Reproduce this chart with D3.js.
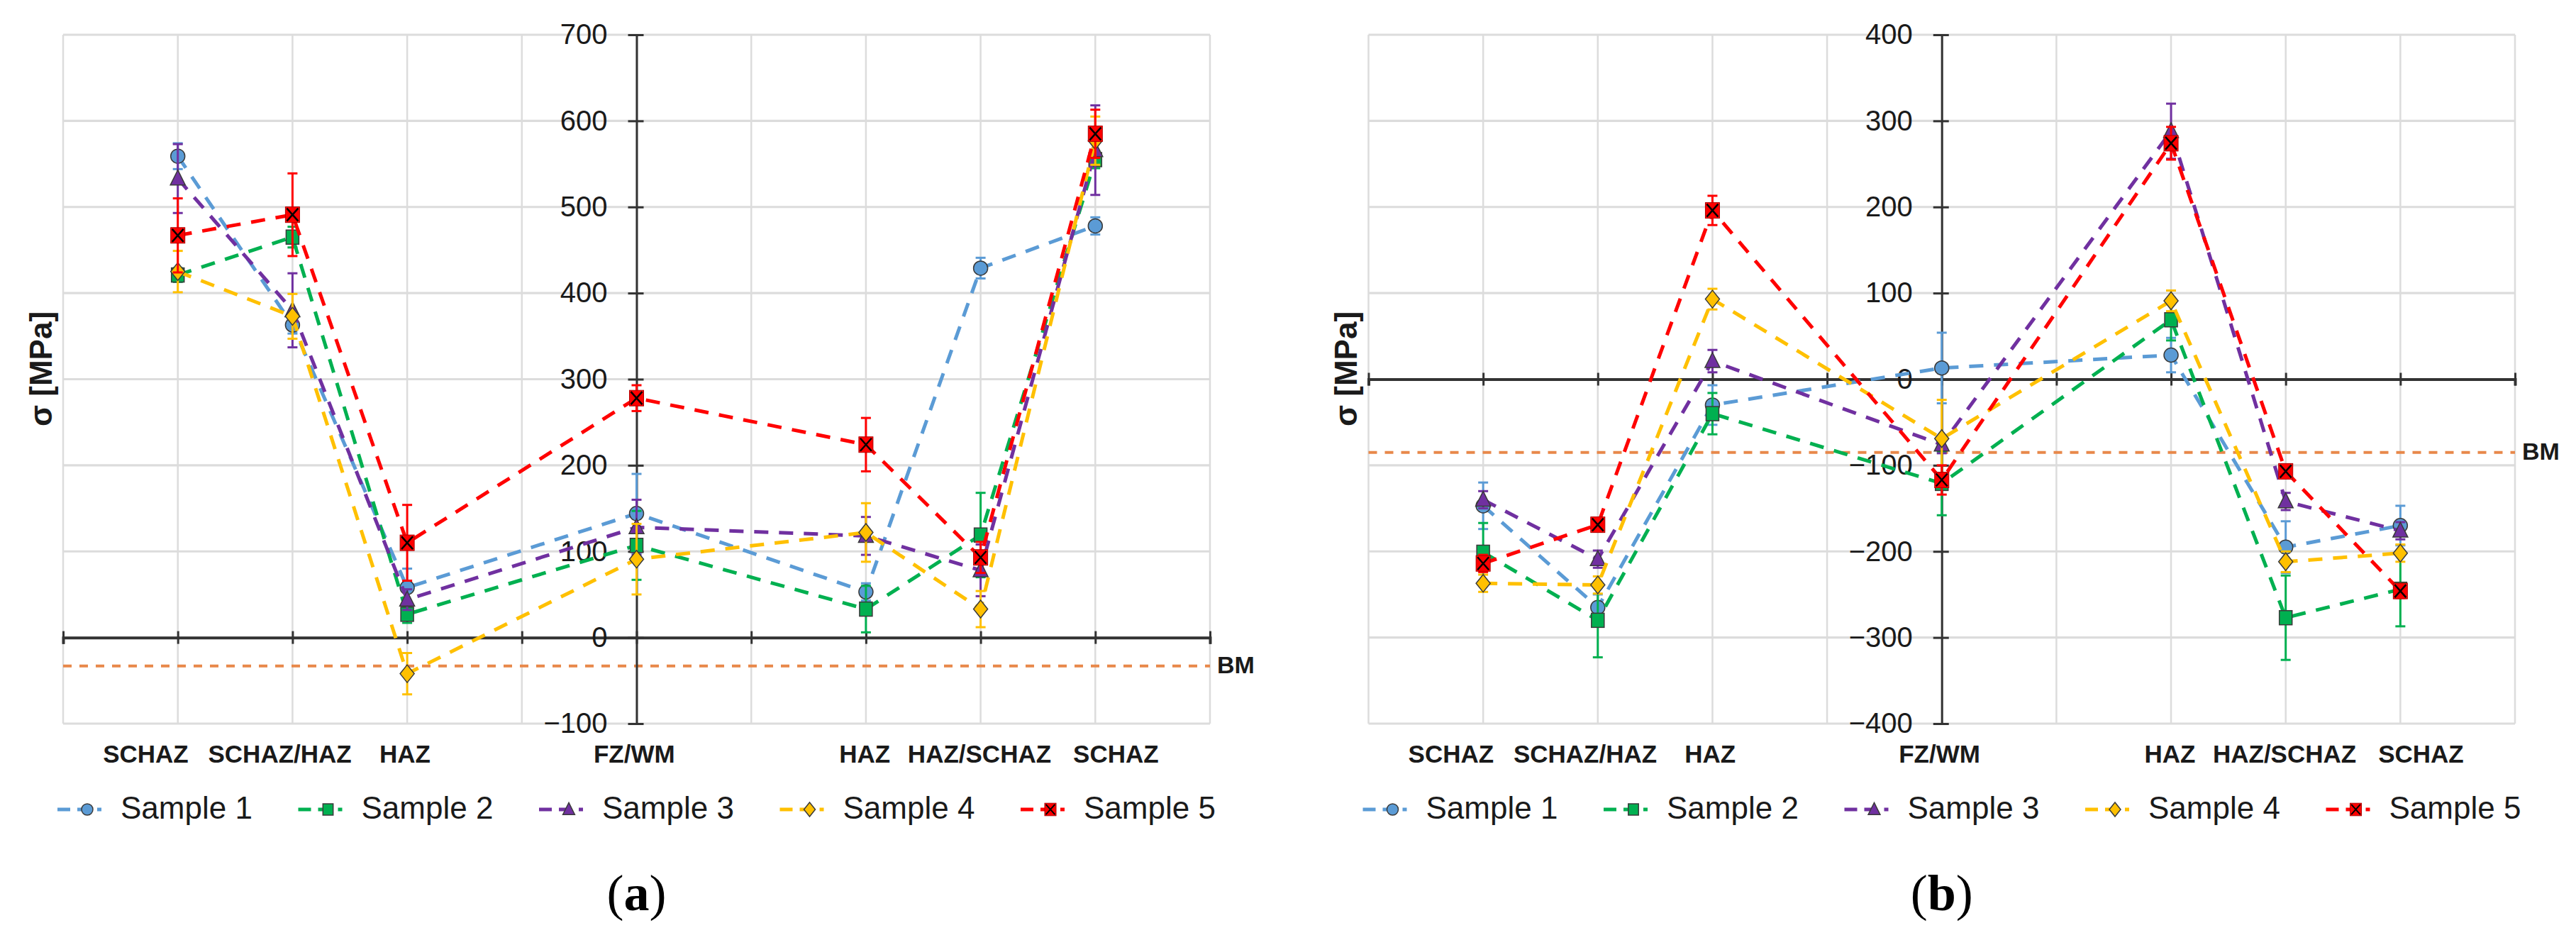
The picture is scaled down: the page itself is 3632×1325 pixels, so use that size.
<!DOCTYPE html>
<html><head><meta charset="utf-8">
<script src="https://cdn.jsdelivr.net/npm/d3@7"></script>
<style>body{margin:0;background:#fff;} svg{display:block;}</style>
</head><body>
<svg id="c" width="3632" height="1325"></svg>
<script>
// ---------- data ----------
const categories = ["SCHAZ", "SCHAZ/HAZ", "HAZ", "FZ/WM", "HAZ", "HAZ/SCHAZ", "SCHAZ"];
const catPos = [1, 2, 3, 5, 7, 8, 9];            // position of each category on the 0..10 grid
const labelPos = [0.72, 1.89, 2.98, 4.98, 6.99, 7.99, 9.18]; // where the category label is centred
const sampleNames = ["Sample 1", "Sample 2", "Sample 3", "Sample 4", "Sample 5"];

const yTicksA = [-100, 0, 100, 200, 300, 400, 500, 600, 700];
const yTicksB = [-400, -300, -200, -100, 0, 100, 200, 300, 400];
const bmA = -33;
const bmB = -85;

// panel (a) values [MPa]
const a_s1 = [559, 363, 58, 144, 53, 429, 478];
const a_s2 = [421, 465, 27, 107, 33, 119, 555];
const a_s3 = [533, 380, 44, 128, 118, 78, 566];
const a_s4 = [425, 373, -42, 91, 122, 33, 577];
const a_s5 = [467, 491, 110, 278, 224, 93, 585];
// panel (a) error bars (+/-)
const a_e1 = [15, 10, 22, 46, 10, 12, 10];
const a_e2 = [8, 12, 10, 40, 27, 49, 10];
const a_e3 = [40, 43, 12, 32, 22, 30, 52];
const a_e4 = [24, 26, 24, 41, 34, 21, 28];
const a_e5 = [43, 48, 44, 15, 31, 18, 28];

// panel (b) values [MPa]
const b_s1 = [-147, -265, -30, 13, 28, -195, -170];
const b_s2 = [-201, -280, -40, -121, 69, -277, -244];
const b_s3 = [-140, -209, 21, -76, 288, -142, -176];
const b_s4 = [-237, -239, 93, -69, 91, -212, -202];
const b_s5 = [-214, -169, 196, -117, 274, -107, -246];
// panel (b) error bars (+/-)
const b_e1 = [27, 15, 23, 41, 20, 30, 23];
const b_e2 = [34, 43, 24, 37, 24, 49, 43];
const b_e3 = [10, 10, 13, 10, 32, 10, 10];
const b_e4 = [10, 10, 12, 45, 12, 12, 10];
const b_e5 = [10, 8, 17, 17, 19, 8, 8];

// ---------- styles ----------
const colors = ["#5B9BD5", "#00B050", "#7030A0", "#FFC000", "#FF0000"];
const FONT = "'Liberation Sans', Arial, sans-serif";
const svg = d3.select("#c");

const panels = [
  { x0: 89, x1: 1706, yDomain: [-100, 700], yTicks: yTicksA, bm: bmA, caption: "a",
    values: [a_s1, a_s2, a_s3, a_s4, a_s5], errors: [a_e1, a_e2, a_e3, a_e4, a_e5] },
  { x0: 1929.5, x1: 3546, yDomain: [-400, 400], yTicks: yTicksB, bm: bmB, caption: "b",
    values: [b_s1, b_s2, b_s3, b_s4, b_s5], errors: [b_e1, b_e2, b_e3, b_e4, b_e5] }
];

function drawMarker(g, k, cx, cy, s) {
  const st = "#3a3a3a", sw = 1.5;
  if (k === 0) {
    g.append("circle").attr("cx", cx).attr("cy", cy).attr("r", 10 * s)
      .attr("fill", colors[0]).attr("stroke", st).attr("stroke-width", sw);
  } else if (k === 1) {
    g.append("rect").attr("x", cx - 9 * s).attr("y", cy - 10 * s).attr("width", 18 * s).attr("height", 20 * s)
      .attr("fill", colors[1]).attr("stroke", st).attr("stroke-width", sw);
  } else if (k === 2) {
    g.append("path").attr("d", `M${cx},${cy - 12 * s}L${cx + 10.5 * s},${cy + 9 * s}L${cx - 10.5 * s},${cy + 9 * s}Z`)
      .attr("fill", colors[2]).attr("stroke", st).attr("stroke-width", sw);
  } else if (k === 3) {
    g.append("path").attr("d", `M${cx},${cy - 12.5 * s}L${cx + 10 * s},${cy}L${cx},${cy + 12.5 * s}L${cx - 10 * s},${cy}Z`)
      .attr("fill", colors[3]).attr("stroke", st).attr("stroke-width", sw);
  } else {
    g.append("rect").attr("x", cx - 10 * s).attr("y", cy - 11 * s).attr("width", 20 * s).attr("height", 22 * s)
      .attr("fill", colors[4]).attr("stroke", "#b00000").attr("stroke-width", 1);
    g.append("path").attr("d", `M${cx - 8 * s},${cy - 9 * s}L${cx + 8 * s},${cy + 9 * s}M${cx + 8 * s},${cy - 9 * s}L${cx - 8 * s},${cy + 9 * s}`)
      .attr("stroke", "#000").attr("stroke-width", 2.5 * s);
  }
}

panels.forEach(p => {
  const g = svg.append("g");
  const x = d3.scaleLinear().domain([0, 10]).range([p.x0, p.x1]);
  const y = d3.scaleLinear().domain(p.yDomain).range([1020, 49]);
  const yTop = y(p.yDomain[1]), yBot = y(p.yDomain[0]);

  // grid
  g.append("g").selectAll("line").data(d3.range(0, 11)).join("line")
    .attr("x1", d => x(d)).attr("x2", d => x(d)).attr("y1", yTop).attr("y2", yBot)
    .attr("stroke", "#dcdcdc").attr("stroke-width", 2.5);
  g.append("g").selectAll("line").data(p.yTicks).join("line")
    .attr("x1", p.x0).attr("x2", p.x1).attr("y1", d => y(d)).attr("y2", d => y(d))
    .attr("stroke", "#dcdcdc").attr("stroke-width", 3.2);

  // BM line
  g.append("line").attr("x1", p.x0).attr("x2", p.x1).attr("y1", y(p.bm)).attr("y2", y(p.bm))
    .attr("stroke", "#E8884A").attr("stroke-width", 4).attr("stroke-dasharray", "12,11");
  g.append("text").attr("x", p.x1 + 10).attr("y", y(p.bm) + 10).text("BM")
    .attr("font-family", FONT).attr("font-weight", "bold").attr("font-size", 34).attr("fill", "#1a1a1a");

  // x axis at 0
  const xa = g.append("g").attr("transform", `translate(0,${y(0)})`)
    .call(d3.axisBottom(x).tickValues(d3.range(0, 11)).tickFormat("").tickSizeOuter(0).tickSize(9));
  xa.select(".domain").attr("stroke", "#333").attr("stroke-width", 4);
  xa.selectAll(".tick line").attr("y1", -9).attr("y2", 9).attr("stroke", "#333").attr("stroke-width", 3);

  // y axis at x=5
  const ya = g.append("g").attr("transform", `translate(${x(5)},0)`)
    .call(d3.axisLeft(y).tickValues(p.yTicks).tickSize(0).tickPadding(41).tickSizeOuter(0)
      .tickFormat(d => d < 0 ? "\u2212" + Math.abs(d) : String(d)));
  ya.select(".domain").attr("stroke", "#333").attr("stroke-width", 3);
  ya.selectAll(".tick line").attr("x1", -12).attr("x2", 10).attr("stroke", "#333").attr("stroke-width", 3);
  ya.selectAll(".tick text").attr("font-family", FONT).attr("font-size", 40).attr("fill", "#1a1a1a");

  // series
  p.values.forEach((vals, k) => {
    const sg = g.append("g");
    const line = d3.line().x((d, i) => x(catPos[i])).y(d => y(d));
    sg.append("path").attr("d", line(vals)).attr("fill", "none")
      .attr("stroke", colors[k]).attr("stroke-width", 5).attr("stroke-dasharray", "20,15");
    vals.forEach((v, i) => {
      const e = p.errors[k][i];
      const cx = x(catPos[i]);
      sg.append("line").attr("x1", cx).attr("x2", cx).attr("y1", y(v - e)).attr("y2", y(v + e))
        .attr("stroke", colors[k]).attr("stroke-width", 3);
      [v - e, v + e].forEach(t => sg.append("line").attr("x1", cx - 7).attr("x2", cx + 7)
        .attr("y1", y(t)).attr("y2", y(t)).attr("stroke", colors[k]).attr("stroke-width", 3));
    });
    vals.forEach((v, i) => drawMarker(sg, k, x(catPos[i]), y(v), 1));
  });

  // category labels
  g.append("g").selectAll("text").data(categories).join("text")
    .attr("x", (d, i) => x(labelPos[i])).attr("y", 1075).attr("text-anchor", "middle")
    .attr("font-family", FONT).attr("font-weight", "bold").attr("font-size", 35).attr("fill", "#1a1a1a")
    .text(d => d);

  // y title
  g.append("text").attr("transform", `translate(${p.x0 - 32},520) rotate(-90)`)
    .attr("text-anchor", "middle").attr("dominant-baseline", "central")
    .attr("font-family", FONT).attr("font-weight", "bold").attr("font-size", 44).attr("fill", "#1a1a1a")
    .text("\u03c3 [MPa]");

  // legend
  sampleNames.forEach((n, k) => {
    const lx = p.x0 - 8 + k * 339.5, ly = 1141;
    const lg = g.append("g");
    lg.append("line").attr("x1", lx).attr("x2", lx + 62).attr("y1", ly).attr("y2", ly)
      .attr("stroke", colors[k]).attr("stroke-width", 5).attr("stroke-dasharray", "18,10");
    drawMarker(lg, k, lx + 42, ly, 0.8);
    lg.append("text").attr("x", lx + 89).attr("y", ly + 13).text(n)
      .attr("font-family", FONT).attr("font-size", 44).attr("fill", "#1a1a1a");
  });

  // caption
  const cap = g.append("text").attr("x", x(5)).attr("y", 1283).attr("text-anchor", "middle")
    .attr("font-family", "'Liberation Serif', 'Times New Roman', serif").attr("font-size", 72).attr("fill", "#000");
  cap.append("tspan").text("(");
  cap.append("tspan").attr("font-weight", "bold").text(p.caption);
  cap.append("tspan").text(")");
});
</script>
</body></html>
